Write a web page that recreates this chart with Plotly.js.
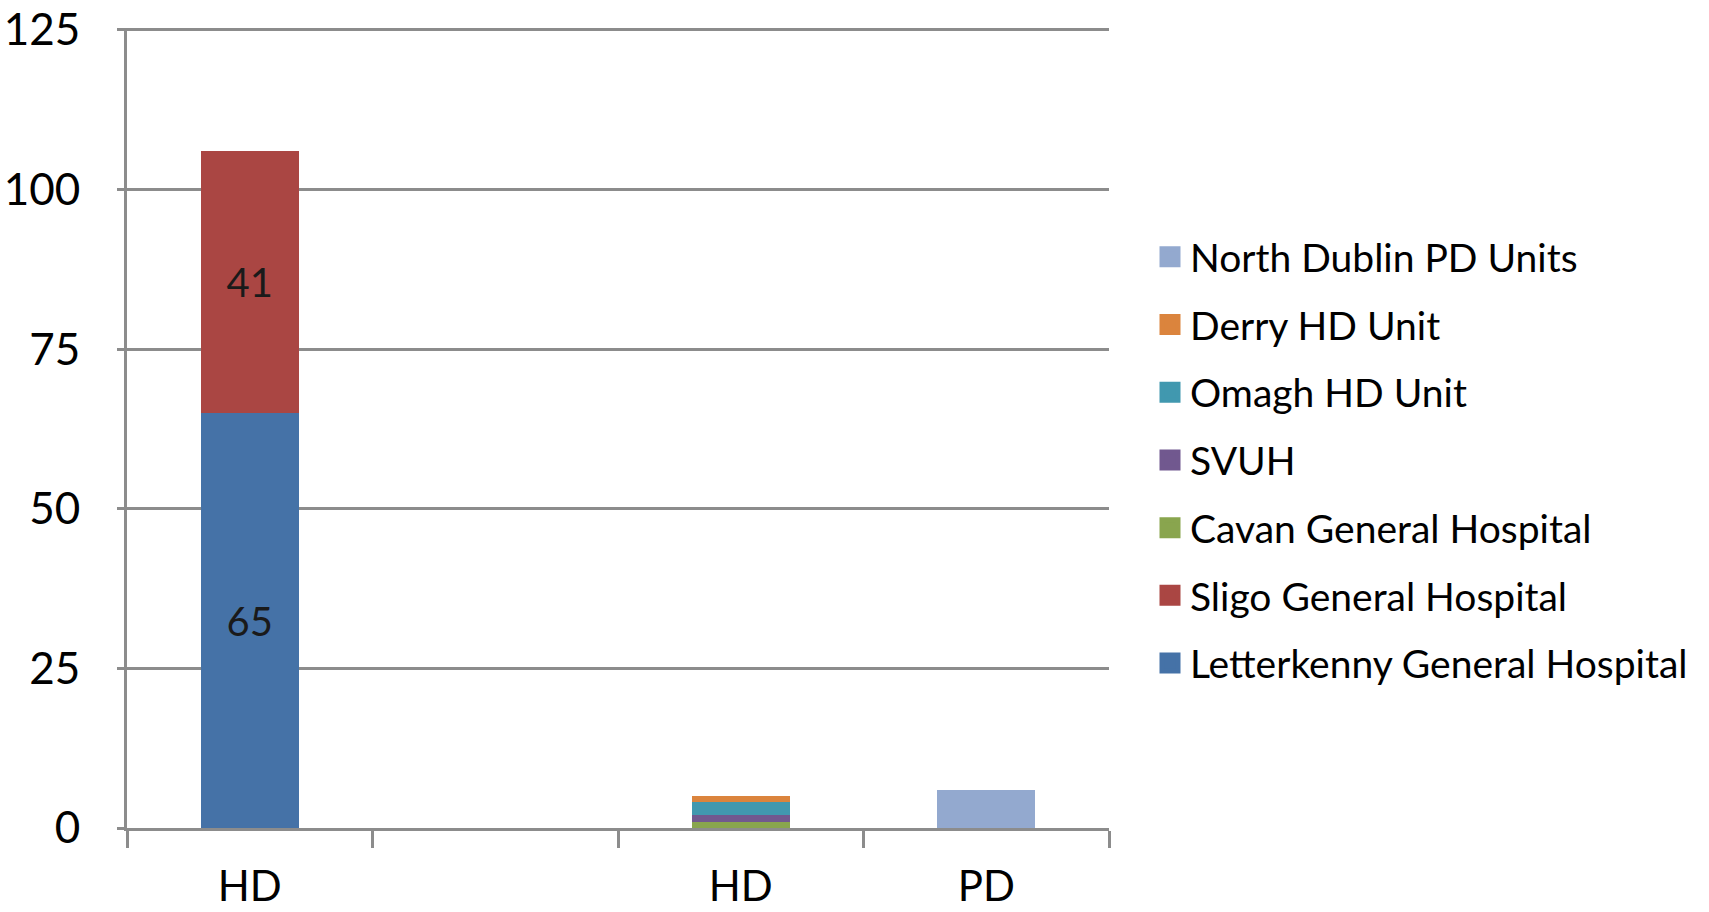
<!DOCTYPE html>
<html>
<head>
<meta charset="utf-8">
<script src="https://cdn.plot.ly/plotly-3.0.1.min.js"></script>
<style>html,body{margin:0;padding:0;background:#fff;}#chart{width:1709px;height:912px;}</style>
</head>
<body>
<div id="chart"></div>
<script>
// Category slots along the x axis (unique ids) and their printed labels
const slots = ['HD-1', 'gap', 'HD-2', 'PD'];
const slotLabels = ['HD', '', 'HD', 'PD'];

// Series values per slot
const letterkenny = [65, 0, 0, 0];
const sligo       = [41, 0, 0, 0];
const cavan       = [0, 0, 1, 0];
const svuh        = [0, 0, 1, 0];
const omagh       = [0, 0, 2, 0];
const derry       = [0, 0, 1, 0];
const northDublin = [0, 0, 0, 6];

// Data labels shown on bars
const letterkennyLabels = ['65', '', '', ''];
const sligoLabels       = ['41', '', '', ''];

const seriesNames = ['Letterkenny General Hospital', 'Sligo General Hospital', 'Cavan General Hospital',
  'SVUH', 'Omagh HD Unit', 'Derry HD Unit', 'North Dublin PD Units'];
const seriesValues = [letterkenny, sligo, cavan, svuh, omagh, derry, northDublin];
const seriesLabels = [letterkennyLabels, sligoLabels, null, null, null, null, null];
const seriesColors = ['#4572A7', '#AA4643', '#89A54E', '#71588F', '#4198AF', '#DB843D', '#93A9CF'];

const FONT = 'Lato, "Open Sans", sans-serif';

const traces = [];
seriesNames.forEach((name, i) => {
  traces.push({
    type: 'bar',
    name: name,
    x: slots,
    y: seriesValues[i],
    text: seriesLabels[i] || undefined,
    textposition: seriesLabels[i] ? 'inside' : 'none',
    insidetextanchor: 'middle',
    textfont: {family: FONT, size: 40, color: '#1a1a1a'},
    marker: {color: seriesColors[i], line: {width: 0}},
    showlegend: false,
    hoverinfo: 'name+y'
  });
});
// legend proxies (square swatches), listed top to bottom as in the legend
for (let i = seriesNames.length - 1; i >= 0; i--) {
  traces.push({
    type: 'scatter',
    mode: 'markers',
    name: seriesNames[i],
    x: [null], y: [null],
    legendgroup: 'g' + i,
    marker: {symbol: 'square', size: 24, color: seriesColors[i],
             line: {width: 5, color: seriesColors[i]}},
    showlegend: true
  });
}

const layout = {
  width: 1709, height: 912,
  paper_bgcolor: '#ffffff', plot_bgcolor: '#ffffff',
  barmode: 'stack',
  bargap: 0.6,
  margin: {l: 127, r: 600, t: 28, b: 84},
  font: {family: FONT, color: '#000000'},
  xaxis: {
    type: 'category',
    categoryorder: 'array', categoryarray: slots,
    tickmode: 'array', tickvals: slots, ticktext: slotLabels,
    tickson: 'boundaries',
    ticks: 'outside', ticklen: 17, tickwidth: 3, tickcolor: '#8c8c8c',
    showgrid: false,
    showline: true, linecolor: '#8c8c8c', linewidth: 3,
    tickfont: {family: FONT, size: 42, color: '#000000'},
    ticklabelstandoff: 20,
    range: [-0.5, 3.5],
    fixedrange: true
  },
  yaxis: {
    range: [0, 125.3], tickvals: [0, 25, 50, 75, 100, 125],
    showgrid: true, gridcolor: '#8c8c8c', gridwidth: 3,
    zeroline: false,
    showline: true, linecolor: '#8c8c8c', linewidth: 3,
    ticks: 'outside', ticklen: 7, tickwidth: 3, tickcolor: '#8c8c8c',
    tickfont: {family: FONT, size: 44, color: '#000000'},
    ticklabelstandoff: 28,
    fixedrange: true
  },
  legend: {
    xref: 'container', yref: 'container',
    x: 1150 / 1709, y: 1 - 225 / 912, xanchor: 'left', yanchor: 'top',
    traceorder: 'grouped',
    tracegroupgap: 14,
    maxheight: 900,
    font: {family: FONT, size: 39, color: '#000000'},
    itemwidth: 30,
    bgcolor: 'rgba(0,0,0,0)'
  }
};

Plotly.newPlot('chart', traces, layout, {displayModeBar: false, staticPlot: true});
</script>
</body>
</html>
